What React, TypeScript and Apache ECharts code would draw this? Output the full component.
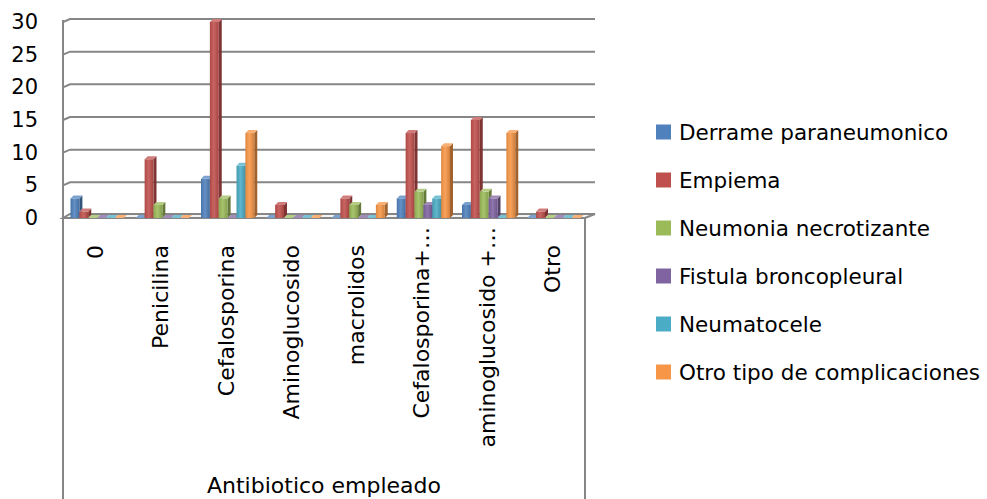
import React, { useEffect, useRef } from "react";
import * as echarts from "echarts";

const categories = [
  "0",
  "Penicilina",
  "Cefalosporina",
  "Aminoglucosido",
  "macrolidos",
  "Cefalosporina+…",
  "aminoglucosido +…",
  "Otro",
];
const seriesNames = [
  "Derrame paraneumonico",
  "Empiema",
  "Neumonia necrotizante",
  "Fistula broncopleural",
  "Neumatocele",
  "Otro tipo de complicaciones",
];
const derrame = [3, 0, 6, 0, 0, 3, 2, 0];
const empiema = [1, 9, 30, 2, 3, 13, 15, 1];
const neumonia = [0, 2, 3, 0, 2, 4, 4, 0];
const fistula = [0, 0, 0, 0, 0, 2, 3, 0];
const neumatocele = [0, 0, 8, 0, 0, 3, 0, 0];
const otroTipo = [0, 0, 13, 0, 2, 11, 13, 0];
const yTicks = [0, 5, 10, 15, 20, 25, 30];

const seriesValues = [derrame, empiema, neumonia, fistula, neumatocele, otroTipo];
const colors = ["#4F81BD", "#C0504D", "#9BBB59", "#8064A2", "#4BACC6", "#F79646"];

const FONT = "DejaVu Sans";
const FS = 22;
const GRID_LEFT = 63;
const GRID_RIGHT_X = 585;
const GRID_TOP = 22;
const GRID_BOTTOM_Y = 218;
const WALL_DX = 7;
const WALL_DY = 4;
const LINE = "#868686";

function shade(hex: string, f: number): string {
  const n = parseInt(hex.slice(1), 16);
  let r = (n >> 16) & 255, g = (n >> 8) & 255, b = n & 255;
  if (f < 0) {
    r = Math.round(r * (1 + f)); g = Math.round(g * (1 + f)); b = Math.round(b * (1 + f));
  } else {
    r = Math.round(r + (255 - r) * f); g = Math.round(g + (255 - g) * f); b = Math.round(b + (255 - b) * f);
  }
  return `rgb(${r},${g},${b})`;
}

function barSeries(si: number) {
  const color = colors[si];
  return {
    type: "custom",
    name: seriesNames[si],
    z: 5,
    itemStyle: { color },
    data: seriesValues[si].map((v, i) => [i, v]),
    encode: { x: 0, y: 1 },
    renderItem: (params: any, api: any) => {
      const ci = api.value(0);
      const v = api.value(1);
      const top = api.coord([ci, v]);
      const base = api.coord([ci, 0]);
      const band = api.size([1, 0])[0];
      const w = band * 0.136;
      const x0 = top[0] - 3 * w + si * w + 1.5;
      const x1 = x0 + w;
      const yT = top[1];
      const yB = base[1];
      const dx = 3;
      const dy = 3;
      const children: any[] = [];
      if (yB - yT > 0.5) {
        children.push({
          type: "polygon",
          shape: { points: [[x1, yT], [x1 + dx, yT - dy], [x1 + dx, yB - dy], [x1, yB]] },
          style: { fill: shade(color, -0.35) },
        });
        children.push({
          type: "rect",
          shape: { x: x0, y: yT, width: w, height: yB - yT },
          style: {
            fill: new echarts.graphic.LinearGradient(0, 0, 1, 0, [
              { offset: 0, color: shade(color, -0.1) },
              { offset: 0.45, color: shade(color, 0.12) },
              { offset: 1, color: shade(color, -0.15) },
            ]),
          },
        });
      }
      children.push({
        type: "polygon",
        shape: { points: [[x0, yT], [x0 + dx, yT - dy], [x1 + dx, yT - dy], [x1, yT]] },
        style: { fill: shade(color, 0.25) },
      });
      return { type: "group", children };
    },
  };
}

const wallSeries = {
  type: "custom",
  name: "wall",
  z: 1,
  silent: true,
  data: yTicks.map((t) => [0, t]),
  encode: { x: 0, y: 1 },
  renderItem: (params: any, api: any) => {
    const cs = params.coordSys;
    const y = api.coord([0, api.value(1)])[1];
    const left = cs.x;
    const right = cs.x + cs.width;
    if (api.value(1) === 0) {
      return {
        type: "polygon",
        shape: {
          points: [[left, y], [right, y], [right + WALL_DX + 3, y - WALL_DY], [left + WALL_DX, y - WALL_DY]],
        },
        style: { fill: "#f4f4f4", stroke: LINE, lineWidth: 2 },
      };
    }
    return {
      type: "polyline",
      shape: {
        points: [[left, y], [left + WALL_DX, y - WALL_DY + 1], [right + WALL_DX + 3, y - WALL_DY + 1]],
      },
      style: { fill: "none", stroke: LINE, lineWidth: 2 },
    };
  },
};

// long (truncated) labels start higher, like the reference
const categoryItems = categories.map((c) => ({
  value: c,
  textStyle: { padding: c.endsWith("…") ? [0, 0, 0, 0] : [0, 18, 0, 0] },
}));

export default function App() {
  const ref = useRef<HTMLDivElement>(null);
  useEffect(() => {
    if (!ref.current) return;
    const chart = echarts.init(ref.current, undefined, { renderer: "svg" });
    chart.setOption({
      animation: false,
      backgroundColor: "#ffffff",
      textStyle: { fontFamily: FONT },
      grid: {
        left: GRID_LEFT,
        right: 987 - GRID_RIGHT_X,
        top: GRID_TOP,
        bottom: 499 - GRID_BOTTOM_Y,
        containLabel: false,
        outerBoundsMode: "none",
      },
      legend: {
        orient: "vertical",
        left: 656,
        top: 121,
        padding: 0,
        itemWidth: 15,
        itemHeight: 15,
        itemGap: 26,
        icon: "rect",
        textStyle: { fontFamily: FONT, fontSize: 21.5, color: "#000", padding: [0, 0, 0, 3] },
        data: seriesNames,
      },
      xAxis: {
        type: "category",
        data: categoryItems,
        name: "Antibiotico empleado",
        nameLocation: "middle",
        nameGap: 256,
        nameTextStyle: { fontFamily: FONT, fontSize: FS, color: "#000" },
        axisLine: { show: false },
        axisTick: { show: false },
        axisLabel: { rotate: 90, margin: 9, fontFamily: FONT, fontSize: FS, color: "#000", interval: 0 },
      },
      yAxis: {
        type: "value",
        min: 0,
        max: 30,
        interval: 5,
        axisLine: { show: false },
        axisTick: { show: false },
        splitLine: { show: false },
        axisLabel: { margin: 25, fontFamily: FONT, fontSize: 21, color: "#000", padding: [4, 0, 0, 0] },
      },
      graphic: [
        { type: "line", shape: { x1: GRID_LEFT, y1: 20, x2: GRID_LEFT, y2: 499 }, style: { stroke: LINE, lineWidth: 2 }, z: 10 },
        { type: "line", shape: { x1: GRID_RIGHT_X, y1: GRID_BOTTOM_Y, x2: GRID_RIGHT_X, y2: 499 }, style: { stroke: LINE, lineWidth: 2 }, z: 10 },
      ],
      series: [wallSeries, ...seriesValues.map((_, i) => barSeries(i))],
    });
    return () => chart.dispose();
  }, []);
  return <div ref={ref} style={{ position: "fixed", left: 0, top: 0, width: 987, height: 499 }} />;
}
